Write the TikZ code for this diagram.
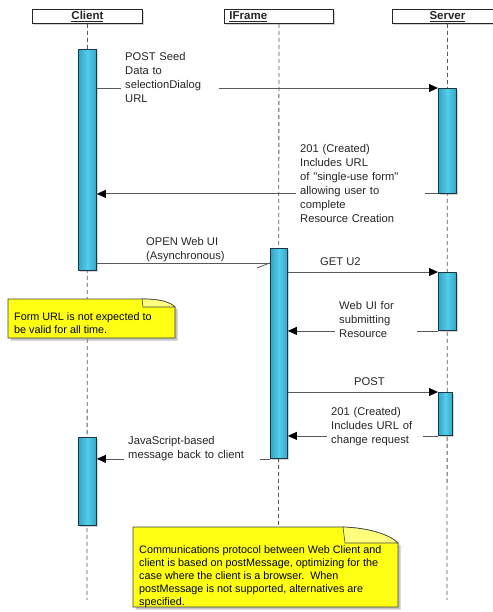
\documentclass[tikz,border=0pt]{standalone}
\usepackage{fontspec}
\setmainfont{Liberation Sans}
\newfontfamily\nomap{Liberation Sans}
\usetikzlibrary{arrows.meta,shadows,calc}
\definecolor{barblue}{RGB}{56,196,232}
\definecolor{bardark}{RGB}{25,55,70}
\definecolor{noteyellow}{RGB}{255,255,20}
\begin{document}
\begin{tikzpicture}[x=1pt,y=-1pt,
  font=\fontsize{11.2}{14}\selectfont,
  head/.style={draw=black!85, fill=white, line width=0.9pt, minimum height=14pt, inner sep=0pt, anchor=north west,
    font=\fontsize{11.5}{14}\selectfont\bfseries, text=black!85,
    drop shadow={shadow xshift=1.2pt, shadow yshift=-1.2pt, opacity=0.35}},
  life/.style={draw=black!65, line width=0.8pt, dash pattern=on 4pt off 3pt},
  bar/.style={draw=bardark, line width=0.9pt, inner sep=0pt, minimum width=18pt, anchor=north west,
    left color=barblue!85!black, right color=barblue!85!black, middle color=barblue!85!white,
    drop shadow={shadow xshift=1.5pt, shadow yshift=-1.5pt, opacity=0.35}},
  msg/.style={draw=black!65, line width=0.8pt},
  call/.style={msg, -{Triangle[length=9pt,width=8pt,color=black]}},
  lbl/.style={anchor=north west, inner sep=0pt, align=left, text=black!85},
  lblw/.style={lbl, fill=white, inner xsep=4pt, inner ysep=2pt},
  note/.style={fill=noteyellow, draw=black!75, line width=0.8pt,
    drop shadow={shadow xshift=2.5pt, shadow yshift=-2.5pt, opacity=0.45}},
  fold/.style={fill=noteyellow!55!white, draw=black!75, line width=0.6pt},
  ntext/.style={anchor=north west, inner sep=0pt, align=left, font=\fontsize{10.8}{13}\selectfont, text=black}]
\useasboundingbox (0,0) rectangle (492,612);

% headers
\node[head, minimum width=110pt] (client) at (32,9) {\underline{Client}};
\node[head, text width=99pt, inner xsep=5pt, align=left] (iframe) at (224,9) {\underline{IFrame}};
\node[head, minimum width=110pt] (server) at (392,9) {\underline{Server}};

% lifelines
\coordinate (cend) at (87,600);
\coordinate (iend) at (278.5,600);
\coordinate (send) at (447,600);
\draw[life] (client.south) -- (cend);
\draw[life] (iframe.south) -- (iend);
\draw[life] (server.south) -- (send);

% activation bars
\node[bar, minimum height=221pt] (cbar1) at (78,49) {};
\node[bar, minimum height=88pt] (cbar2) at (78,437) {};
\node[bar, minimum width=17pt, minimum height=210pt] (ibar) at (270,248) {};
\node[bar, minimum height=105pt] (sbar1) at (438,88) {};
\node[bar, minimum height=58pt] (sbar2) at (438,272) {};
\node[bar, minimum width=14pt, minimum height=43pt] (sbar3) at (438,392) {};

% message 1
\draw[call] (sbar1.north west -| cbar1.east) -- (sbar1.north west);
\node[lblw, text width=90pt] (m1) at (121,50) {POST Seed\\Data to\\selectionDialog\\URL};

% message 2
\draw[call] (sbar1.south west) -- (sbar1.south west -| cbar1.east);
\node[lblw, text width=121pt] (m2) at (296,142) {201 (Created)\\Includes URL\\of {\nomap"}single-use form{\nomap"}\\allowing user to\\complete\\Resource Creation};

% message 3 (asynchronous)
\coordinate (m3s) at ([yshift=8pt]cbar1.south east);
\coordinate (m3e) at (m3s -| ibar.west);
\draw[msg] (m3s) -- (m3e);
\draw[msg] (m3e) -- ++(-13,5);
\node[lbl] (m3) at (146,237) {OPEN Web UI\\(Asynchronous)};

% message 4
\draw[call] (sbar2.north west -| ibar.east) -- (sbar2.north west);
\node[lbl] (m4) at (320,257) {GET U2};

% message 5
\draw[call] (sbar2.south west) -- (sbar2.south west -| ibar.east);
\node[lblw, text width=74pt] (m5) at (335,299) {Web UI for\\submitting\\Resource};

% message 6
\draw[call] (sbar3.north west -| ibar.east) -- (sbar3.north west);
\node[lbl] (m6) at (354,377) {POST};

% message 7
\draw[call] (sbar3.south west) -- (sbar3.south west -| ibar.east);
\node[lblw, text width=88pt] (m7) at (327,405) {201 (Created)\\Includes URL of\\change request};

% message 8
\draw[call] (ibar.south west) -- (ibar.south west -| cbar2.east);
\node[lblw, text width=128pt] (m8) at (124,434) {JavaScript-based\\message back to client};

% note 1
\path[note] (8,299) -- (142,299) .. controls (160,299) and (170,302) .. (175,307) -- (175,338) -- (8,338) -- cycle;
\path[fold] (142,299) .. controls (160,299) and (170,302) .. (175,307) -- (143,307) -- cycle;
\node[ntext] (n1) at (14,312) {Form URL is not expected to\\be valid for all time.};

% note 2
\path[note] (133,527) -- (343,527) .. controls (370,528) and (390,535) .. (398,543) -- (398,607) -- (133,607) -- cycle;
\path[fold] (343,527) .. controls (370,528) and (390,535) .. (398,543) -- (345,543) -- cycle;
\node[ntext] (n2) at (139,545) {Communications protocol between Web Client and\\client is based on postMessage, optimizing for the\\case where the client is a browser.\ \ When\\postMessage is not supported, alternatives are\\specified.};
\end{tikzpicture}
\end{document}
